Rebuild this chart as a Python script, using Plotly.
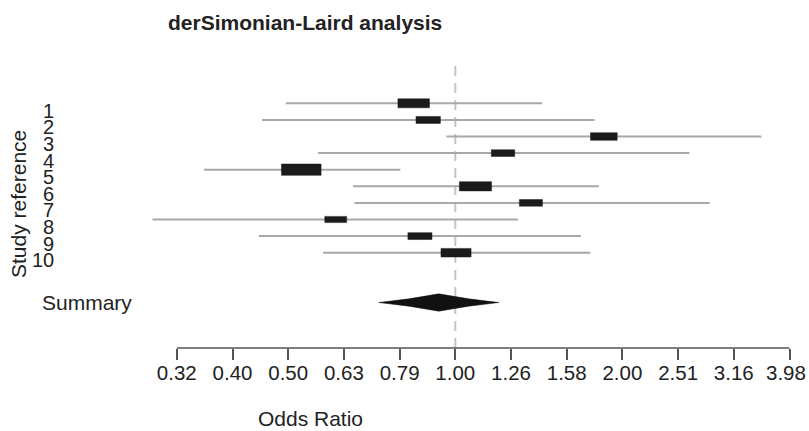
import numpy as np
import plotly.graph_objects as go

# ---- data ----
study_labels = ["1", "2", "3", "4", "5", "6", "7", "8", "9", "10"]
odds_ratio = [0.842, 0.894, 1.848, 1.218, 0.529, 1.087, 1.367, 0.610, 0.864, 1.003]
ci_lower = [0.496, 0.450, 0.964, 0.567, 0.354, 0.655, 0.659, 0.286, 0.444, 0.579]
ci_upper = [1.432, 1.778, 3.545, 2.633, 0.797, 1.810, 2.862, 1.296, 1.680, 1.748]
weights = [12.5, 7.5, 9.0, 6.9, 19.8, 13.0, 6.7, 6.0, 7.3, 11.4]
summary_label = "Summary"
summary_or = 0.934
summary_lower = 0.729
summary_upper = 1.197
tick_values = [0.3162, 0.3981, 0.5012, 0.6310, 0.7943, 1.0, 1.2589, 1.5849,
               1.9953, 2.5119, 3.1623, 3.9811]
tick_labels = ["0.32", "0.40", "0.50", "0.63", "0.79", "1.00", "1.26", "1.58",
               "2.00", "2.51", "3.16", "3.98"]
title_text = "derSimonian-Laird analysis"
x_title = "Odds Ratio"
y_title = "Study reference"

# ---- layout geometry (reference pixel coords) ----
W, H = 809, 431
PLOT_L, PLOT_R, PLOT_T, PLOT_B = 140, 800, 62, 348
ML, MR, MT, MB = PLOT_L, W - PLOT_R, PLOT_T, H - PLOT_B
PW, PH = PLOT_R - PLOT_L, PLOT_B - PLOT_T
PX_PER_DECADE = 557.0
X0_PX = 455.3                     # pixel of log10(OR)=0
ROW1_PX, ROW_STEP = 103.3, 16.6   # pixel of row 1 and row spacing
x_range = [(PLOT_L - X0_PX) / PX_PER_DECADE, (PLOT_R - X0_PX) / PX_PER_DECADE]
y_range = [1 + (PLOT_B - ROW1_PX) / ROW_STEP, 1 + (PLOT_T - ROW1_PX) / ROW_STEP]


def px_to_paper_x(px):
    return (px - PLOT_L) / PW


def px_to_paper_y(py):
    return (PLOT_B - py) / PH


rows = list(range(1, len(study_labels) + 1))
summary_row = len(study_labels) + 3

lo_log = np.log10(ci_lower)
hi_log = np.log10(ci_upper)
est_log = np.log10(odds_ratio)
w_sqrt = np.sqrt(weights)
half_w = 0.008 * w_sqrt           # box half width in log10 units
half_h = 0.0766 * w_sqrt          # box half height in row units

fig = go.Figure()

# CI lines
cx, cy = [], []
for r, a, b in zip(rows, lo_log, hi_log):
    cx += [a, b, None]
    cy += [r, r, None]
fig.add_trace(go.Scatter(x=cx, y=cy, mode="lines",
                         line=dict(color="#a8a8a8", width=2),
                         hoverinfo="skip", showlegend=False))

# boxes
bx, by = [], []
for r, e, hw, hh in zip(rows, est_log, half_w, half_h):
    bx += [e - hw, e + hw, e + hw, e - hw, e - hw, None]
    by += [r - hh, r - hh, r + hh, r + hh, r - hh, None]
fig.add_trace(go.Scatter(x=bx, y=by, mode="lines", fill="toself",
                         fillcolor="#1b1b1b", line=dict(color="#1b1b1b", width=0.5),
                         hoverinfo="skip", showlegend=False))

# summary diamond (slightly concave sides)
s_lo, s_hi, s_c = np.log10(summary_lower), np.log10(summary_upper), np.log10(summary_or)
dh = 0.52
dx = [s_lo, (s_lo + s_c) / 2, s_c, (s_c + s_hi) / 2, s_hi,
      (s_c + s_hi) / 2, s_c, (s_lo + s_c) / 2, s_lo]
dy = [summary_row, summary_row - dh * 0.42, summary_row - dh, summary_row - dh * 0.42,
      summary_row, summary_row + dh * 0.42, summary_row + dh, summary_row + dh * 0.42,
      summary_row]
fig.add_trace(go.Scatter(x=dx, y=dy, mode="lines", fill="toself",
                         fillcolor="#111111", line=dict(color="#111111", width=0.5),
                         hoverinfo="skip", showlegend=False))

tick_pos = list(np.log10(tick_values))

shapes = [
    dict(type="line", xref="x", yref="paper", x0=0, x1=0, y0=0, y1=1,
         line=dict(color="#c4c4c4", width=2, dash="10px,7px"), layer="below"),
    dict(type="line", xref="x", yref="paper", x0=tick_pos[0], x1=tick_pos[-1],
         y0=0, y1=0, line=dict(color="#555555", width=1.5)),
]

FONT = "Liberation Sans, Arial, Helvetica, sans-serif"
TXT = "#222222"
TICK_FONT = 20.5
annotations = []
for r, lab in zip(rows, study_labels):
    annotations.append(dict(text=lab, xref="paper", yref="y", x=px_to_paper_x(56), y=r,
                            xanchor="right", yanchor="middle", yshift=-7.5, showarrow=False,
                            font=dict(family=FONT, size=20, color=TXT)))
annotations.append(dict(text=summary_label, xref="paper", yref="y", x=px_to_paper_x(40),
                        y=summary_row, xanchor="left", yanchor="middle", showarrow=False,
                        font=dict(family=FONT, size=21, color=TXT)))
annotations.append(dict(text=y_title, xref="paper", yref="paper", x=px_to_paper_x(18),
                        y=px_to_paper_y(204), xanchor="center", yanchor="middle",
                        textangle=-90, showarrow=False,
                        font=dict(family=FONT, size=21, color=TXT)))
annotations.append(dict(text=x_title, xref="paper", yref="paper", x=px_to_paper_x(310),
                        y=px_to_paper_y(418), xanchor="center", yanchor="middle",
                        showarrow=False, font=dict(family=FONT, size=21, color=TXT)))
annotations.append(dict(text="<b>" + title_text + "</b>", xref="paper", yref="paper",
                        x=px_to_paper_x(166), y=px_to_paper_y(22), xanchor="left",
                        yanchor="middle", showarrow=False,
                        font=dict(family=FONT, size=21, color=TXT)))
# last tick label pulled slightly inward so it fits the page (as in the reference)
annotations.append(dict(text=tick_labels[-1], xref="x", yref="paper", x=tick_pos[-1],
                        y=px_to_paper_y(372), xanchor="center", yanchor="middle",
                        xshift=-4, showarrow=False,
                        font=dict(family=FONT, size=TICK_FONT, color=TXT)))

axis_ticktext = tick_labels[:-1] + [""]

fig.update_layout(
    width=W, height=H,
    margin=dict(l=ML, r=MR, t=MT, b=MB, pad=0),
    paper_bgcolor="white", plot_bgcolor="white",
    shapes=shapes, annotations=annotations,
    xaxis=dict(range=x_range, tickmode="array", tickvals=tick_pos, ticktext=axis_ticktext,
               ticks="outside", ticklen=11, tickwidth=1.5, tickcolor="#555555",
               ticklabelstandoff=-5,
               showline=False, showgrid=False, zeroline=False,
               tickfont=dict(family=FONT, size=TICK_FONT, color=TXT)),
    yaxis=dict(range=y_range, showticklabels=False, showgrid=False, zeroline=False,
               showline=False, ticks=""),
)

fig.write_html("out.html",
               config={"displayModeBar": False},
               post_script="document.body.style.margin='0';"
                           "document.body.style.overflow='hidden';")
